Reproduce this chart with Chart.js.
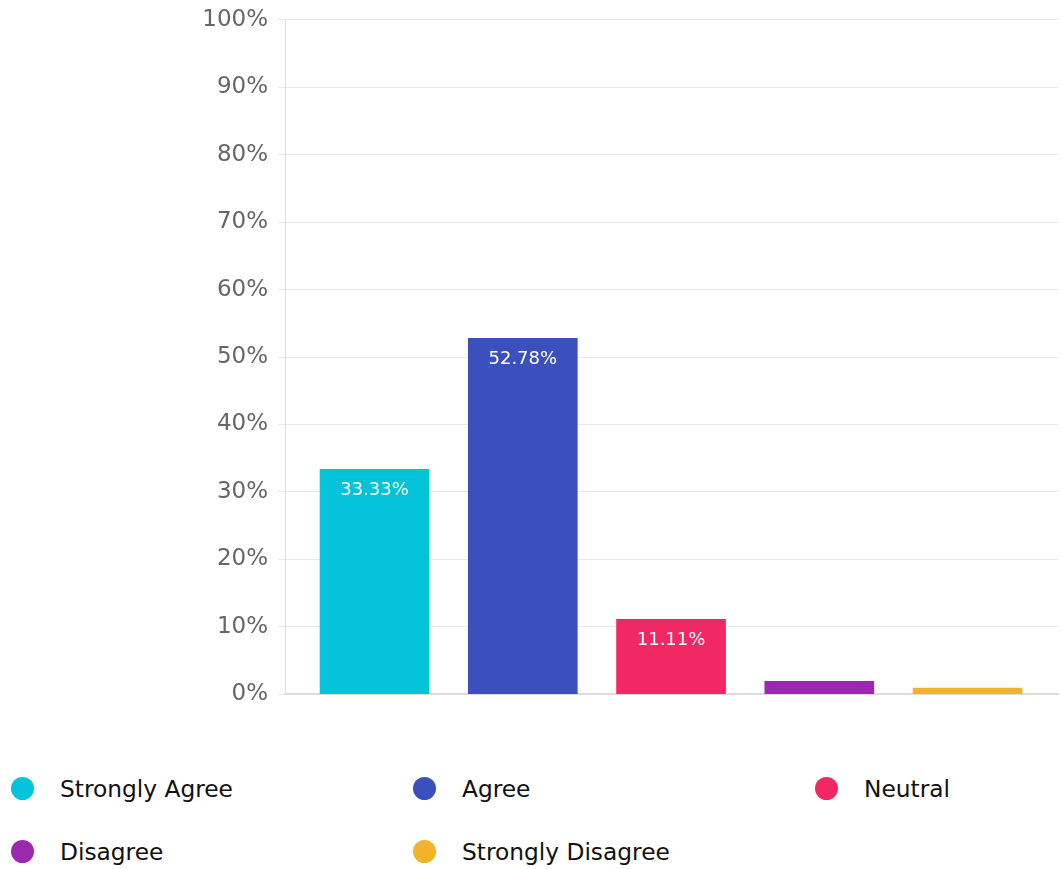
<!DOCTYPE html>
<html>
<head>
<meta charset="utf-8">
<script src="https://cdn.jsdelivr.net/npm/chart.js@4"></script>
<style>
  body { margin: 0; background: #fff; font-family: 'DejaVu Sans', sans-serif; }
  #wrap { position: relative; width: 1062px; height: 722px; margin-top: -4px; }
  #legend { display: grid; grid-template-columns: repeat(3, 402px); padding-left: 11px; padding-top: 39px; }
  .item { display: flex; align-items: center; height: 63px; font-size: 23.3px; color: #111; }
  .dot { width: 23px; height: 23px; border-radius: 50%; margin-right: 26px; }
</style>
</head>
<body>
<div id="wrap"><canvas id="chart"></canvas></div>
<div id="legend"></div>
<script>
const categories = ['Strongly Agree', 'Agree', 'Neutral', 'Disagree', 'Strongly Disagree'];
const percents = [33.33, 52.78, 11.11, 1.9, 0.9];
const colors = ['#03c3da', '#3b50bd', '#f22865', '#9c27b0', '#f2b229'];
const yTicks = [0, 10, 20, 30, 40, 50, 60, 70, 80, 90, 100];

// html legend
const legendDiv = document.getElementById('legend');
legendDiv.innerHTML = categories.map((c, i) =>
  `<div class="item"><span class="dot" style="background:${colors[i]}"></span>${c}</div>`).join('');

// white value labels inside the bars
const barLabels = {
  id: 'barLabels',
  afterDatasetsDraw(chart) {
    const ctx = chart.ctx;
    const meta = chart.getDatasetMeta(0);
    ctx.save();
    ctx.fillStyle = '#fff';
    ctx.font = '18px "DejaVu Sans"';
    ctx.textAlign = 'center';
    ctx.textBaseline = 'middle';
    meta.data.forEach((bar, i) => {
      if (percents[i] < 5) return;
      ctx.fillText(percents[i].toFixed(2) + '%', bar.x, bar.y + 21);
    });
    ctx.restore();
  }
};

new Chart(document.getElementById('chart'), {
  type: 'bar',
  data: {
    datasets: [{
      data: percents.map((v, i) => ({ x: i, y: v })),
      backgroundColor: colors,
      barThickness: 109,
      borderWidth: 0
    }]
  },
  options: {
    responsive: true,
    maintainAspectRatio: false,
    animation: false,
    layout: { padding: { top: 4, right: 4, left: 0, bottom: 0 } },
    plugins: { legend: { display: false }, tooltip: { enabled: false } },
    scales: {
      x: {
        type: 'linear',
        offset: false,
        min: -0.604,
        max: 4.61,
        ticks: { display: false },
        grid: { display: false },
        border: { display: true, color: '#dcdcdc', width: 2 }
      },
      y: {
        min: 0,
        max: 100,
        afterBuildTicks: (s) => { s.ticks = yTicks.map(v => ({ value: v })); },
        afterFit: (s) => { s.width = 285; },
        ticks: {
          callback: (v) => v + '%',
          color: '#666',
          font: { family: 'DejaVu Sans', size: 23 },
          padding: 10
        },
        grid: { color: '#e8e8e8', tickLength: 7 },
        border: { color: '#dedede' }
      }
    }
  },
  plugins: [barLabels]
});
</script>
</body>
</html>
